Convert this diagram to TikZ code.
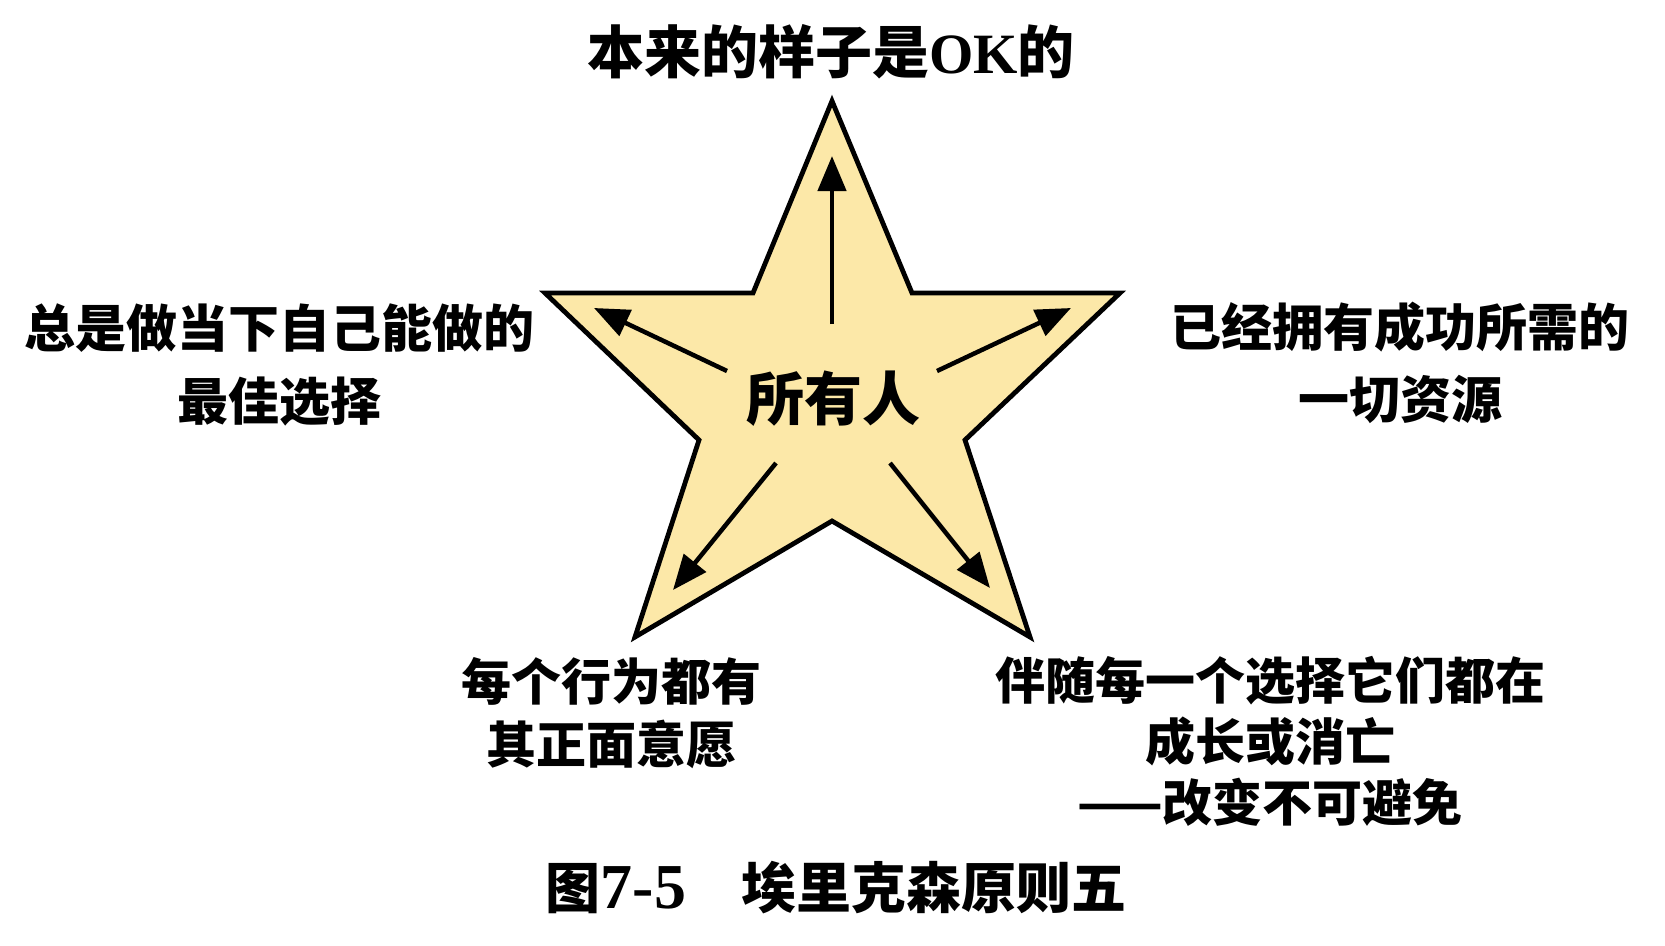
\documentclass[tikz,border=0pt]{standalone}
\usepackage{fontspec}
\setmainfont{Liberation Serif}
\newfontfamily\cjk{Noto Sans CJK SC}
\usetikzlibrary{arrows.meta}
\definecolor{starfill}{RGB}{252,232,168}
\tikzset{
  lbl/.style={inner sep=0pt, align=center, font=\cjk\bfseries},
  starline/.style={draw=black, line width=4.8pt, line join=miter, fill=starfill},
  ray/.style={line width=4.5pt, -{Triangle[length=35pt,width=28pt]}}
}
\begin{document}
\begin{tikzpicture}[x=1pt,y=-1pt]
\useasboundingbox[fill=white] (0,0) rectangle (1665,945);
% star
\coordinate (sT) at (832,101);
\coordinate (iUR) at (912,293);
\coordinate (sR) at (1120,293);
\coordinate (iR) at (965,440);
\coordinate (sBR) at (1030,637);
\coordinate (iB) at (832,521);
\coordinate (sBL) at (635,637);
\coordinate (iL) at (699,440);
\coordinate (sL) at (545,293);
\coordinate (iUL) at (753,293);
\draw[starline] (sT) -- (iUR) -- (sR) -- (iR) -- (sBR) -- (iB) -- (sBL) -- (iL) -- (sL) -- (iUL) -- cycle;
% center label
\node[lbl, font=\cjk\bfseries\fontsize{58}{60}\selectfont] (center) at (833,399) {所有人};
% arrow ends
\coordinate (aUs) at (832,324);  \coordinate (aUe) at (832,156);
\coordinate (aULs) at (727,371); \coordinate (aULe) at (594,308);
\coordinate (aURs) at (937,371); \coordinate (aURe) at (1071,308);
\coordinate (aLLs) at (776,463); \coordinate (aLLe) at (673,590);
\coordinate (aLRs) at (890,463); \coordinate (aLRe) at (990,588);
\draw[ray] (aUs) -- (aUe);
\draw[ray] (aULs) -- (aULe);
\draw[ray] (aURs) -- (aURe);
\draw[ray] (aLLs) -- (aLLe);
\draw[ray] (aLRs) -- (aLRe);
% labels
\node[lbl, font=\fontsize{57}{60}\selectfont] (top) at (831,52)
  {{\cjk\bfseries 本来的样子是}\textbf{OK}{\cjk\bfseries 的}};
\node[lbl, font=\cjk\bfseries\fontsize{51}{73}\selectfont] (left) at (279,365)
  {总是做当下自己能做的\\最佳选择};
\node[lbl, font=\cjk\bfseries\fontsize{51}{72}\selectfont] (right) at (1400,363)
  {已经拥有成功所需的\\一切资源};
\node[lbl, font=\cjk\bfseries\fontsize{50}{63}\selectfont] (bl) at (611,713)
  {每个行为都有\\其正面意愿};
\node[lbl, font=\cjk\bfseries\fontsize{50}{61}\selectfont] (br) at (1270,741)
  {伴随每一个选择它们都在\\成长或消亡\\——改变不可避免};
\node[lbl, font=\fontsize{55}{58}\selectfont] (cap) at (836,888)
  {{\cjk\bfseries 图}{\fontsize{64}{64}\selectfont\textbf{7-5}}\hspace{55pt}{\cjk\bfseries 埃里克森原则五}};
\end{tikzpicture}
\end{document}
